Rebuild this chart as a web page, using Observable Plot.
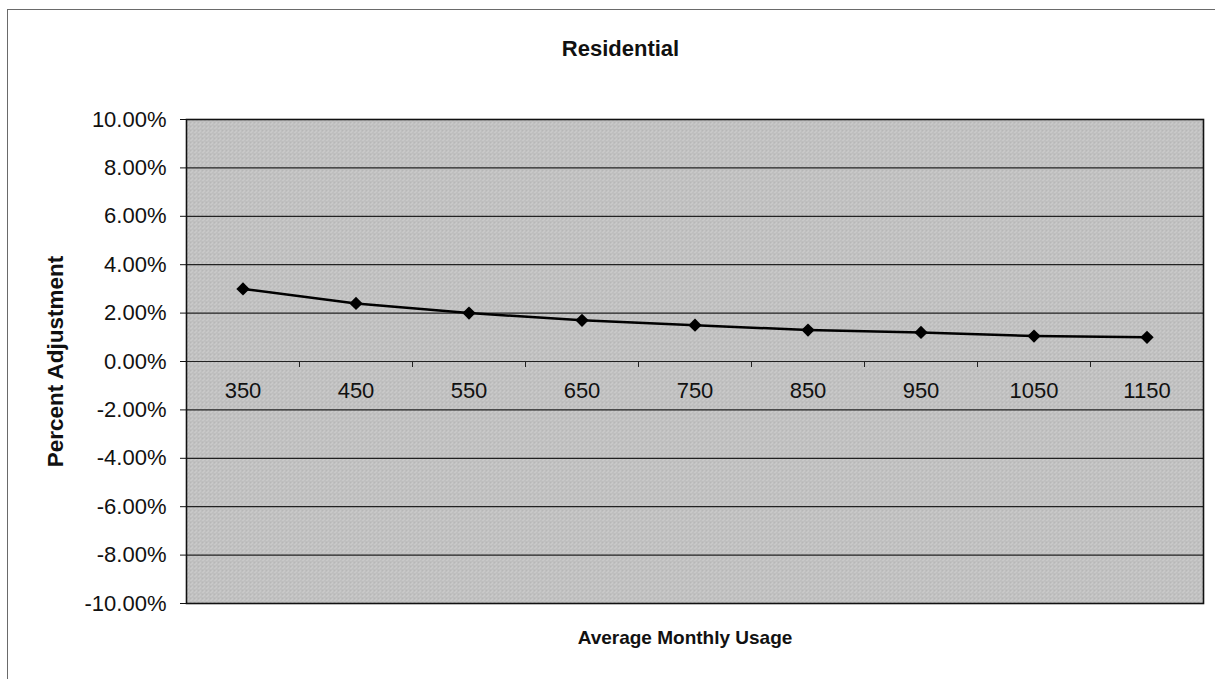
<!DOCTYPE html>
<html>
<head>
<meta charset="utf-8">
<script src="https://cdn.jsdelivr.net/npm/d3@7"></script>
<script src="https://cdn.jsdelivr.net/npm/@observablehq/plot@0.6"></script>
<style>
  html, body { margin: 0; padding: 0; background: #fff; }
  body { width: 1215px; height: 679px; overflow: hidden; position: relative;
         font-family: "Liberation Sans", Arial, sans-serif; }
  #border { position: absolute; left: 7px; top: 9px; width: 1230px; height: 700px;
            border-top: 1px solid #6a6a6a; border-left: 1px solid #6a6a6a; }
  #title { position: absolute; left: 0; top: 0; width: 1215px; height: 70px;
           box-sizing: border-box; padding-left: 26px; padding-top: 37px;
           text-align: center; font-weight: bold; font-size: 22px; line-height: 24px; color: #111; }
  #chart { position: absolute; left: 0; top: 70px; }
</style>
</head>
<body>
<div id="border"></div>
<div id="title">Residential</div>
<div id="chart"></div>
<script>
// Average monthly usage categories and the percent adjustment for each
const usage = [350, 450, 550, 650, 750, 850, 950, 1050, 1150];
const adjustment = [0.030, 0.024, 0.020, 0.017, 0.015, 0.013, 0.012, 0.0105, 0.010];

// Y gridlines / ticks (percent) and the category boundaries marked on the zero line
const yTicks = [-0.10, -0.08, -0.06, -0.04, -0.02, 0, 0.02, 0.04, 0.06, 0.08, 0.10];
const bandEdges = [400, 500, 600, 700, 800, 900, 1000, 1100];

const data = usage.map((u, i) => ({usage: u, adjustment: adjustment[i]}));
const pct = d => d3.format(".2%")(d).replace("\u2212", "-");

const chart = Plot.plot({
  width: 1215,
  height: 609,
  marginLeft: 186,
  marginRight: 12,
  marginTop: 49,
  marginBottom: 76,
  style: {fontFamily: "'Liberation Sans', Arial, sans-serif", fontSize: "22px", color: "#111", background: "transparent"},
  x: {domain: [300, 1200], axis: null},
  y: {domain: [-0.10, 0.10], ticks: yTicks, tickFormat: pct,
      tickSize: 6, tickPadding: 14, label: null},
  marks: [
    Plot.frame({fill: "url(#grain)", stroke: null}),
    Plot.ruleY(yTicks, {stroke: "#222", strokeWidth: 1.2}),
    Plot.ruleX(bandEdges, {y1: 0, y2: 0, insetBottom: -6, stroke: "#222", strokeWidth: 1}),
    Plot.frame({stroke: "#111", strokeWidth: 1.6}),
    Plot.text(usage, {x: d => d, y: 0, dy: 29, text: d => String(d), fontSize: 22, fill: "#111"}),
    Plot.line(data, {x: "usage", y: "adjustment", stroke: "#000", strokeWidth: 2.5}),
    Plot.dot(data, {x: "usage", y: "adjustment", symbol: "diamond2", r: 6, fill: "#000", stroke: null}),
    Plot.text(["Percent Adjustment"], {frameAnchor: "left", textAnchor: "middle", rotate: -90, dx: -131,
      text: d => d, fontSize: 22.5, fontWeight: "bold", fill: "#111"}),
    Plot.text(["Average Monthly Usage"], {frameAnchor: "bottom", dx: -10, dy: 40, text: d => d,
      fontSize: 19, fontWeight: "bold", fill: "#111"})
  ]
});

// Halftone-like grey fill for the plotting area
const defs = d3.select(chart).insert("defs", ":first-child");
const pat = defs.append("pattern").attr("id", "grain")
  .attr("width", 4).attr("height", 4).attr("patternUnits", "userSpaceOnUse");
pat.append("rect").attr("width", 4).attr("height", 4).attr("fill", "#d0d0d0");
[[0,0],[2,0],[1,1],[3,2],[0,2],[2,3],[1,3]].forEach(([px, py]) =>
  pat.append("rect").attr("x", px).attr("y", py).attr("width", 1).attr("height", 1).attr("fill", "#aeaeae"));

document.getElementById("chart").appendChild(chart);
</script>
</body>
</html>
